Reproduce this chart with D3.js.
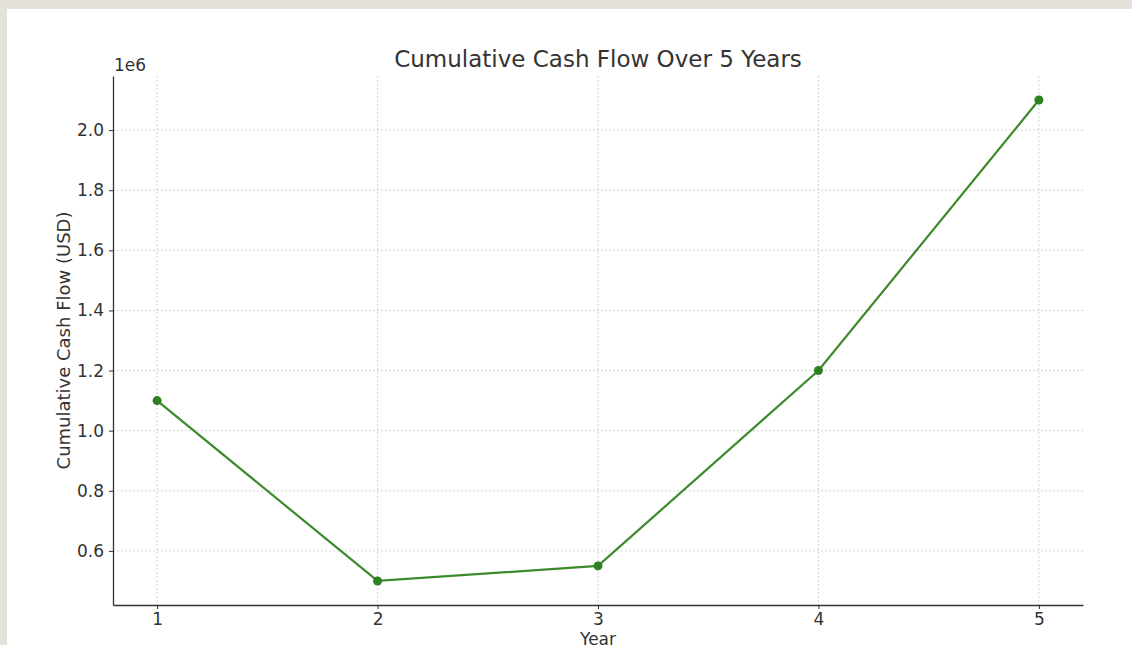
<!DOCTYPE html>
<html>
<head>
<meta charset="utf-8">
<script src="https://cdn.jsdelivr.net/npm/d3@7"></script>
<style>
  html, body { margin: 0; padding: 0; background: #e6e2dd; overflow: hidden; }
  #chart { width: 1132px; height: 645px; }
</style>
</head>
<body>
<div id="chart"></div>
<script>
const years = [1, 2, 3, 4, 5];
const cashFlow = [1100000, 500000, 550000, 1200000, 2100000];
const yTicks = [600000, 800000, 1000000, 1200000, 1400000, 1600000, 1800000, 2000000];

const width = 1132;
const height = 645;
const margin = { top: 76, right: 49, bottom: 40, left: 113 };
const innerWidth = width - margin.left - margin.right;
const innerHeight = height - margin.top - margin.bottom;

const svg = d3.select("#chart")
  .append("svg")
  .attr("width", width)
  .attr("height", height)
  .style("font-family", "'DejaVu Sans', sans-serif");

// faded backdrop edges, white card
svg.append("rect").attr("width", width).attr("height", height).attr("fill", "#e4e0da");
svg.append("rect").attr("x", 7).attr("y", 9).attr("width", width - 7).attr("height", height - 9).attr("fill", "#ffffff");

const chart = svg.append("g").attr("transform", `translate(${margin.left}, ${margin.top})`);

const x = d3.scaleLinear().domain([0.8, 5.2]).range([0, innerWidth]);
const y = d3.scaleLinear().domain([420000, 2180000]).range([innerHeight, 0]);

// grid
chart.append("g")
  .selectAll("line")
  .data(yTicks)
  .join("line")
  .attr("x1", 0).attr("x2", innerWidth)
  .attr("y1", (d) => y(d)).attr("y2", (d) => y(d))
  .attr("stroke", "#c8c8c8").attr("stroke-width", 0.8).attr("stroke-dasharray", "2,2");

chart.append("g")
  .selectAll("line")
  .data(years)
  .join("line")
  .attr("x1", (d) => x(d)).attr("x2", (d) => x(d))
  .attr("y1", 0).attr("y2", innerHeight)
  .attr("stroke", "#c8c8c8").attr("stroke-width", 0.8).attr("stroke-dasharray", "2,2");

// axes
chart.append("g")
  .call(d3.axisLeft(y).tickValues(yTicks).tickSize(4).tickSizeOuter(0).tickPadding(5).tickFormat((d) => (d / 1e6).toFixed(1)))
  .call((g) => g.select(".domain").attr("stroke", "#333").attr("stroke-width", 1.3))
  .call((g) => g.selectAll(".tick line").attr("stroke", "#333"))
  .call((g) => g.selectAll(".tick text").attr("fill", "#333").attr("font-size", 17).style("font-family", "'DejaVu Sans', sans-serif"));

chart.append("g")
  .attr("transform", `translate(0, ${innerHeight})`)
  .call(d3.axisBottom(x).tickValues(years).tickSize(4).tickSizeOuter(0).tickPadding(4).tickFormat(d3.format("d")))
  .call((g) => g.select(".domain").attr("stroke", "#333").attr("stroke-width", 1.3))
  .call((g) => g.selectAll(".tick line").attr("stroke", "#333"))
  .call((g) => g.selectAll(".tick text").attr("fill", "#333").attr("font-size", 17).style("font-family", "'DejaVu Sans', sans-serif"));

// line + markers
const line = d3.line().x((d) => x(d[0])).y((d) => y(d[1]));
const points = years.map((yr, i) => [yr, cashFlow[i]]);

chart.append("path")
  .datum(points)
  .attr("d", line)
  .attr("fill", "none")
  .attr("stroke", "#3d8a2c")
  .attr("stroke-width", 2.2);

chart.append("g")
  .selectAll("circle")
  .data(points)
  .join("circle")
  .attr("cx", (d) => x(d[0]))
  .attr("cy", (d) => y(d[1]))
  .attr("r", 4.5)
  .attr("fill", "#2f8020");

// labels
svg.append("text")
  .attr("x", margin.left + 1).attr("y", margin.top - 5)
  .attr("font-size", 17).attr("fill", "#333")
  .text("1e6");

svg.append("text")
  .attr("x", margin.left + innerWidth / 2).attr("y", 67)
  .attr("text-anchor", "middle")
  .attr("font-size", 23).attr("fill", "#333")
  .text("Cumulative Cash Flow Over 5 Years");

svg.append("text")
  .attr("transform", `translate(70, ${margin.top + innerHeight / 2}) rotate(-90)`)
  .attr("text-anchor", "middle")
  .attr("font-size", 18).attr("fill", "#333")
  .text("Cumulative Cash Flow (USD)");

svg.append("text")
  .attr("x", margin.left + innerWidth / 2).attr("y", 645)
  .attr("text-anchor", "middle")
  .attr("font-size", 17).attr("fill", "#333")
  .text("Year");
</script>
</body>
</html>
